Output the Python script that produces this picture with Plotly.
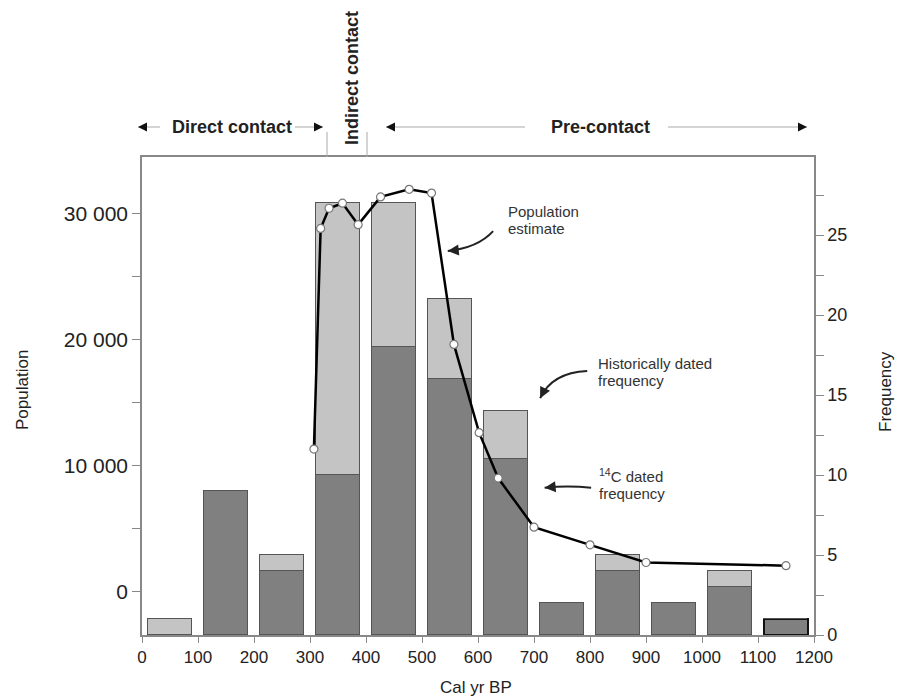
import plotly.graph_objects as go

# ---- data ----
bin_centers = [50, 150, 250, 350, 450, 550, 650, 750, 850, 950, 1050, 1150]
c14_freq = [0, 9, 4, 10, 18, 16, 11, 2, 4, 2, 3, 1]
hist_freq = [1, 0, 1, 17, 9, 5, 3, 0, 1, 0, 1, 0]

pop_years = [307, 319, 334, 358, 386, 426, 477, 517, 557, 602, 636, 700, 800, 900, 1150]
pop_values = [11300, 28800, 30400, 30800, 29100, 31300, 31900, 31600, 19600, 12600,
              9000, 5100, 3700, 2300, 2050]

x_tick_vals = [0, 100, 200, 300, 400, 500, 600, 700, 800, 900, 1000, 1100, 1200]
pop_tick_vals = [0, 5000, 10000, 15000, 20000, 25000, 30000]
pop_tick_text = ["0", "", "10 000", "", "20 000", "", "30 000"]
freq_tick_vals = [0, 2.5, 5, 7.5, 10, 12.5, 15, 17.5, 20, 22.5, 25, 27.5]
freq_tick_text = ["0", "", "5", "", "10", "", "15", "", "20", "", "25", ""]

FONT = "Liberation Sans, Arial, sans-serif"
DARK = "#808080"
LIGHT = "#c4c4c4"
EDGE = "#555555"
AXIS = "#888888"
TXT = "#222222"

# plot area in page pixels: left 142, right 814, top 157, bottom 635
PL, PR, PT, PB = 142, 814, 157, 635
def px_x(p):
    return (p - PL) / (PR - PL)
def px_y(p):
    return (PB - p) / (PB - PT)

fig = go.Figure()

line_w = [1.2] * (len(bin_centers) - 1) + [2.2]
line_c = [EDGE] * (len(bin_centers) - 1) + ["#111111"]

# bars on frequency axis (y, right side); line on population axis (y2, left side, drawn on top)
fig.add_trace(go.Bar(
    x=bin_centers, y=c14_freq, width=80, yaxis="y",
    marker=dict(color=DARK, line=dict(color=line_c, width=line_w)),
    name="14C dated frequency", showlegend=False))
fig.add_trace(go.Bar(
    x=bin_centers, y=hist_freq, width=80, yaxis="y",
    marker=dict(color=LIGHT, line=dict(color=EDGE, width=1.2)),
    name="Historically dated frequency", showlegend=False))
fig.add_trace(go.Scatter(
    x=pop_years, y=pop_values, yaxis="y2", mode="lines+markers",
    line=dict(color="#000000", width=2.5),
    marker=dict(size=8, color="white", line=dict(color="#777777", width=1.2)),
    name="Population estimate", showlegend=False))

annotations = []
shapes = []

# ---- in-plot labels with curved arrows (frequency-axis coordinates) ----
def txt(x, y, s, size=15):
    annotations.append(dict(x=x, y=y, xref="x", yref="y", text=s, showarrow=False,
                            xanchor="left", yanchor="middle",
                            font=dict(family=FONT, size=size, color="#333333")))

txt(650, 26.45, "Population")
txt(650, 25.4, "estimate")
txt(811, 16.97, "Historically dated")
txt(811, 15.9, "frequency")
txt(813, 9.95, "<sup style='font-size:9px'>14</sup>C dated")
txt(813, 8.85, "frequency")

def curve(p0, c, p1, ax, ay):
    shapes.append(dict(type="path", xref="x", yref="y",
                       path=f"M {p0[0]},{p0[1]} Q {c[0]},{c[1]} {p1[0]},{p1[1]}",
                       line=dict(color="#222222", width=2)))
    annotations.append(dict(x=p1[0], y=p1[1], xref="x", yref="y", text="",
                            showarrow=True, ax=ax, ay=ay, arrowhead=2, arrowsize=1.1,
                            arrowwidth=2, arrowcolor="#222222", standoff=0))

curve((627, 25.24), (600, 24.2), (546, 24.0), 10, -1)
curve((795, 16.5), (732, 16.4), (711, 14.8), 5, -10)
curve((802, 9.2), (760, 9.35), (719, 9.2), 10, -1)

# ---- top period labels (paper coordinates from page pixels) ----
TOPY = px_y(127)
def period_text(xp, s, angle=0, yp=127):
    annotations.append(dict(x=px_x(xp), y=px_y(yp), xref="paper", yref="paper",
                            text=f"<b>{s}</b>", showarrow=False, textangle=angle,
                            xanchor="center", yanchor="middle",
                            font=dict(family=FONT, size=18, color=TXT)))

def grey_arrow(p0, p1):
    shapes.append(dict(type="line", xref="paper", yref="paper", x0=px_x(p0), x1=px_x(p1),
                       y0=TOPY, y1=TOPY, line=dict(color="#aaaaaa", width=1)))
    d = 1 if p1 > p0 else -1
    annotations.append(dict(x=px_x(p1), y=TOPY, xref="paper", yref="paper", text="",
                            showarrow=True, ax=-d * 8, ay=0, arrowhead=2, arrowsize=1.2,
                            arrowwidth=1.5, arrowcolor="#111111", standoff=0))

period_text(232, "Direct contact")
grey_arrow(160, 138)
grey_arrow(295, 323)
period_text(600, "Pre-contact")
grey_arrow(525, 386)
grey_arrow(668, 807)
period_text(352, "Indirect contact", angle=-90, yp=78)
for xp in (327, 367):
    shapes.append(dict(type="line", xref="paper", yref="paper", x0=px_x(xp), x1=px_x(xp),
                       y0=1.0, y1=px_y(132), line=dict(color="#aaaaaa", width=1)))

# ---- axis titles ----
annotations.append(dict(x=px_x(22), y=px_y(390), xref="paper", yref="paper", text="Population",
                        showarrow=False, textangle=-90, xanchor="center", yanchor="middle",
                        font=dict(family=FONT, size=17, color=TXT)))
annotations.append(dict(x=px_x(885), y=px_y(392), xref="paper", yref="paper", text="Frequency",
                        showarrow=False, textangle=-90, xanchor="center", yanchor="middle",
                        font=dict(family=FONT, size=17, color=TXT)))
annotations.append(dict(x=px_x(476), y=px_y(687), xref="paper", yref="paper", text="Cal yr BP",
                        showarrow=False, xanchor="center", yanchor="middle",
                        font=dict(family=FONT, size=17, color=TXT)))

# page body has an 8px margin: shrink the figure and margins accordingly
OFF = 8
W, H = 903 - OFF, 700 - OFF
fig.update_layout(
    width=W, height=H,
    margin=dict(l=PL - OFF, r=W + OFF - PR, t=PT - OFF, b=H + OFF - PB),
    plot_bgcolor="white", paper_bgcolor="white",
    barmode="stack", bargap=0,
    showlegend=False,
    font=dict(family=FONT, color=TXT),
    annotations=annotations, shapes=shapes,
    xaxis=dict(range=[0, 1200], tickvals=x_tick_vals, ticks="outside", ticklen=6,
               tickcolor=AXIS, showline=True, linecolor=AXIS, linewidth=1.5, mirror=True,
               showgrid=False, zeroline=False, tickfont=dict(size=17, color=TXT)),
    yaxis=dict(range=[0, 29.875], side="right", tickvals=freq_tick_vals,
               ticktext=freq_tick_text, ticks="outside", ticklen=8, tickcolor=AXIS,
               showline=True, linecolor=AXIS, linewidth=1.5, showgrid=False, zeroline=False,
               tickfont=dict(size=18, color=TXT)),
    yaxis2=dict(range=[-3450, 34465], overlaying="y", side="left", tickvals=pop_tick_vals,
                ticktext=pop_tick_text, ticks="outside", ticklen=8, tickcolor=AXIS,
                showline=True, linecolor=AXIS, linewidth=1.5, showgrid=False, zeroline=False,
                tickfont=dict(size=21, color=TXT)),
)

fig.write_html("out.html")
